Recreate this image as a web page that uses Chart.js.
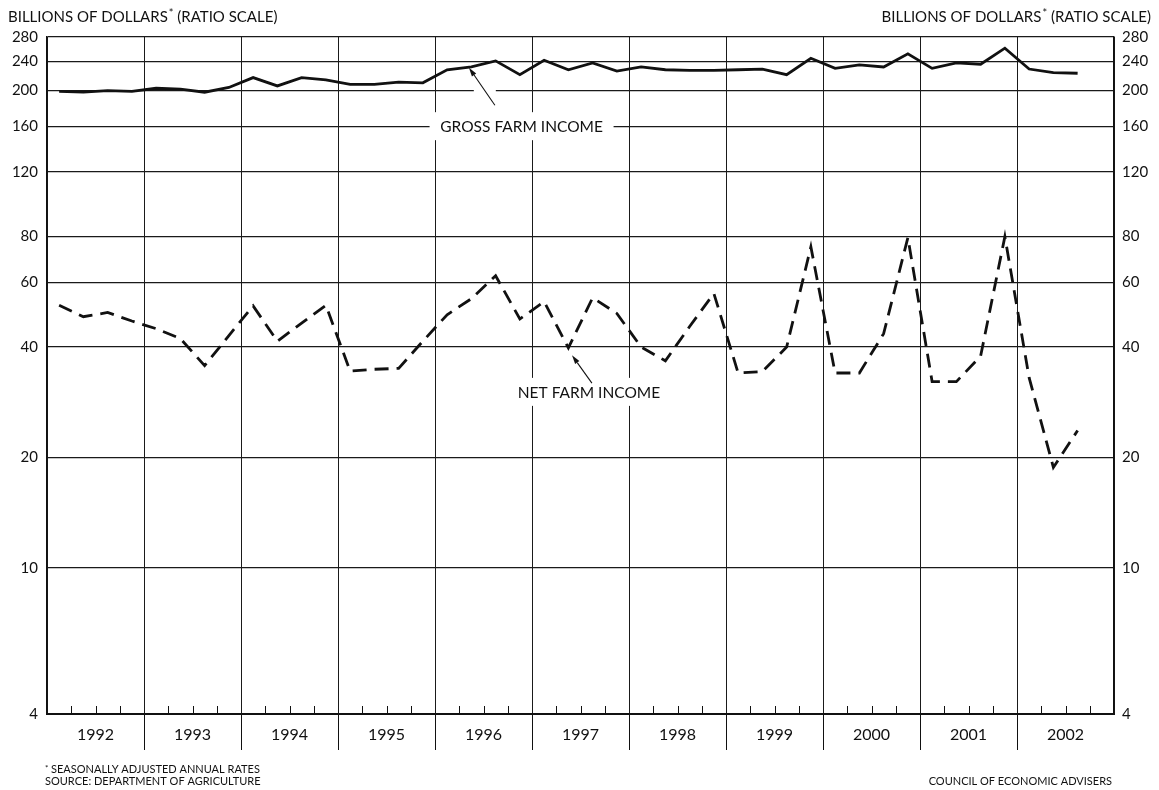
<!DOCTYPE html>
<html><head><meta charset="utf-8">
<script src="https://cdn.jsdelivr.net/npm/chart.js@4.4.1/dist/chart.umd.min.js"></script>
<style>html,body{margin:0;padding:0;background:#fff;}#wrap{position:relative;width:1159px;height:790px;}</style>
</head><body><div id="wrap"><canvas id="c" width="1159" height="790"></canvas></div>
<script>
// ---- data (quarterly, seasonally adjusted annual rates, billions of dollars) ----
const years = ['1992','1993','1994','1995','1996','1997','1998','1999','2000','2001','2002'];
const quartersPerYear = 4;
const grossFarmIncome = [199,198,200,199, 203,202,198,204, 217,206,217,214, 208,208,211,210,
  228,232,241,221, 242,228,238,226, 232,228,227,227, 228,229,221,245, 230,235,232,252,
  230,238,236,261, 229,224,223];
const netFarmIncome = [52.0,48.4,49.7,47.1, 44.9,42.2,35.6,43.0, 51.8,41.5,46.5,52.0, 34.4,34.8,35.0,41.5,
  49.0,54.2,62.6,47.7, 53.2,39.8,54.5,49.4, 40.0,36.7,45.5,56.0, 34.0,34.3,40.0,75.0,
  34.0,34.0,43.5,79.5, 32.2,32.2,37.8,80.0, 33.0,18.8,23.7];
const yTickValues = [4,10,20,40,60,80,120,160,200,240,280];
const yTickLabels = ['4','10','20','40','60','80','120','160','200','240','280'];
const titleText = ['BILLIONS OF DOLLARS','*',' (RATIO SCALE)'];
const grossLabel = 'GROSS FARM INCOME';
const netLabel = 'NET FARM INCOME';
const footLines = ['SEASONALLY ADJUSTED ANNUAL RATES','SOURCE: DEPARTMENT OF AGRICULTURE'];
const creditText = 'COUNCIL OF ECONOMIC ADVISERS';

const FONT = 'Lato, "Open Sans", "Noto Sans", sans-serif';
const INK = '#111';
const nQ = years.length * quartersPerYear;

function toPoints(arr){ return arr.map((v,i)=>({x:i+0.5, y:v})); }

function drawTitle(ctx, x, y, alignRight){
  ctx.save();
  ctx.fillStyle = INK; ctx.textBaseline = 'alphabetic'; ctx.textAlign = 'left';
  const fBig = '15px ' + FONT, fSmall = '11px ' + FONT;
  ctx.font = fBig; const w1 = ctx.measureText(titleText[0]).width; const w3 = ctx.measureText(titleText[2]).width;
  ctx.font = fSmall; const w2 = ctx.measureText(titleText[1]).width + 1;
  let sx = alignRight ? x - (w1+w2+w3) : x;
  ctx.font = fBig; ctx.fillText(titleText[0], sx, y);
  ctx.font = fSmall; ctx.fillText(titleText[1], sx + w1 + 1, y - 5);
  ctx.font = fBig; ctx.fillText(titleText[2], sx + w1 + w2, y);
  ctx.restore();
}

function arrow(ctx, x1, y1, x2, y2){
  ctx.save();
  ctx.strokeStyle = INK; ctx.fillStyle = INK; ctx.lineWidth = 1.1;
  const a = Math.atan2(y2-y1, x2-x1), L = 9, W = 2.6;
  const bx = x2 - L*Math.cos(a), by = y2 - L*Math.sin(a);
  ctx.beginPath(); ctx.moveTo(x1,y1); ctx.lineTo(bx,by); ctx.stroke();
  ctx.beginPath(); ctx.moveTo(x2,y2);
  ctx.lineTo(bx + W*Math.sin(a), by - W*Math.cos(a));
  ctx.lineTo(bx - W*Math.sin(a), by + W*Math.cos(a));
  ctx.closePath(); ctx.fill();
  ctx.restore();
}

const decor = {
  id: 'decor',
  beforeDatasetsDraw(chart){
    const ctx = chart.ctx, xs = chart.scales.x, ys = chart.scales.y;
    ctx.save();
    const gx = xs.getPixelForValue(19.57), gy = ys.getPixelForValue(160);
    ctx.fillStyle = '#fff'; ctx.fillRect(gx-92, gy-14, 184, 28);
    ctx.fillStyle = INK; ctx.font = '15.5px ' + FONT; ctx.textAlign = 'center'; ctx.textBaseline = 'middle';
    ctx.fillText(grossLabel, gx, gy+1);
    const nx = xs.getPixelForValue(22.35), ny = ys.getPixelForValue(30.2);
    ctx.fillStyle = '#fff'; ctx.fillRect(nx-77, ny-14, 154, 28);
    ctx.fillStyle = INK; ctx.fillText(netLabel, nx, ny+1);
    const ax1 = xs.getPixelForValue(18.47), ay1 = ys.getPixelForValue(182.5);
    const ax2 = xs.getPixelForValue(17.4), ay2 = ys.getPixelForValue(231);
    const y200 = ys.getPixelForValue(200);
    const t = (y200 - ay1)/(ay2 - ay1), xc = ax1 + t*(ax2-ax1);
    ctx.fillStyle = '#fff'; ctx.fillRect(xc-11, y200-2, 22, 4);
    arrow(ctx, ax1, ay1, ax2, ay2);
    arrow(ctx, xs.getPixelForValue(22.47), ys.getPixelForValue(31.9), xs.getPixelForValue(21.65), ys.getPixelForValue(38.0));
    ctx.restore();
  },
  afterDraw(chart){
    const ctx = chart.ctx, xs = chart.scales.x, area = chart.chartArea;
    ctx.save();
    ctx.strokeStyle = INK; ctx.lineWidth = 1;
    for (let q = 1; q < nQ; q++){
      const px = Math.round(xs.getPixelForValue(q)) + 0.5;
      ctx.beginPath();
      if (q % quartersPerYear === 0){ ctx.moveTo(px, area.bottom); ctx.lineTo(px, area.bottom + 36); }
      else { ctx.moveTo(px, area.bottom); ctx.lineTo(px, area.bottom - 8); }
      ctx.stroke();
    }
    drawTitle(ctx, 8, 22, false);
    drawTitle(ctx, 1151, 22, true);
    ctx.fillStyle = INK; ctx.textAlign = 'left'; ctx.textBaseline = 'alphabetic';
    ctx.font = '8px ' + FONT; ctx.fillText('*', 45, 771);
    ctx.font = '11px ' + FONT;
    ctx.fillText(footLines[0], 51, 773);
    ctx.fillText(footLines[1], 45, 785);
    ctx.textAlign = 'right'; ctx.fillText(creditText, 1112, 785);
    ctx.restore();
  }
};

const yTicks = {
  font: {family: FONT, size: 15}, color: INK, padding: 9,
  callback: (v) => { const k = yTickValues.indexOf(v); return k >= 0 ? yTickLabels[k] : ''; }
};

new Chart(document.getElementById('c'), {
  type: 'line',
  data: {
    datasets: [
      { label: grossLabel, data: toPoints(grossFarmIncome), borderColor: INK, borderWidth: 2.8,
        pointRadius: 0, tension: 0, fill: false, yAxisID: 'y' },
      { label: netLabel, data: toPoints(netFarmIncome), borderColor: INK, borderWidth: 2.8,
        borderDash: [14, 8], pointRadius: 0, tension: 0, fill: false, yAxisID: 'y' }
    ]
  },
  options: {
    responsive: false, animation: false, devicePixelRatio: 1,
    layout: { padding: { top: 37, left: 0, right: 0, bottom: 0 } },
    plugins: { legend: { display: false }, tooltip: { enabled: false }, title: { display: false } },
    scales: {
      x: {
        type: 'linear', min: 0, max: nQ, position: 'bottom',
        afterBuildTicks: (s) => { const t = []; for (let v = 0; v <= nQ; v += 2) t.push({value: v}); s.ticks = t; },
        afterFit: (s) => { s.height = 76; },
        grid: { color: (c) => (c.tick && c.tick.value % quartersPerYear === 0) ? '#1a1a1a' : 'rgba(0,0,0,0)',
                lineWidth: 1, drawTicks: false },
        border: { display: true, color: INK, width: 2 },
        ticks: { font: {family: FONT, size: 16}, color: INK, padding: 11, maxRotation: 0, autoSkip: false,
                 callback: (v) => (v % quartersPerYear === 2) ? years[(v - 2) / quartersPerYear] : '' }
      },
      y: {
        type: 'logarithmic', min: 4, max: 280, position: 'left',
        afterBuildTicks: (s) => { s.ticks = yTickValues.map(v => ({value: v})); },
        afterFit: (s) => { s.width = 47; },
        grid: { color: '#1a1a1a', lineWidth: 1.2, drawTicks: false },
        border: { display: true, color: INK, width: 1.5 },
        ticks: yTicks
      },
      y2: {
        type: 'logarithmic', min: 4, max: 280, position: 'right',
        afterBuildTicks: (s) => { s.ticks = yTickValues.map(v => ({value: v})); },
        afterFit: (s) => { s.width = 45; },
        grid: { display: false, drawTicks: false },
        border: { display: true, color: INK, width: 1.5 },
        ticks: Object.assign({}, yTicks, { padding: 8 })
      }
    }
  },
  plugins: [decor]
});
</script></body></html>
